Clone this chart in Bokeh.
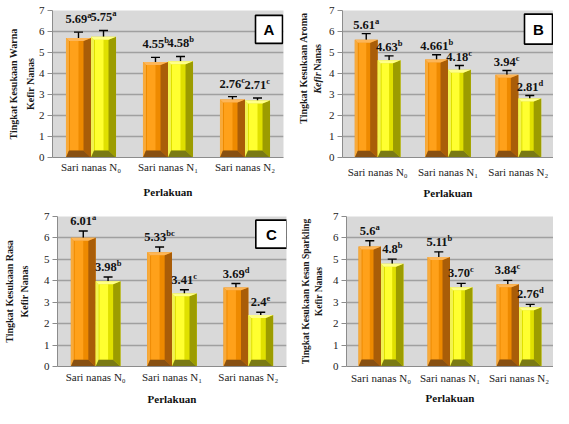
import math
from bokeh.plotting import figure
from bokeh.models import ColumnDataSource, Whisker, TeeHead, FixedTicker, Range1d, LinearAxis
from bokeh.layouts import column, row
from bokeh.embed import file_html
from bokeh.resources import INLINE
from bokeh.core.properties import value

# ---------------- data ----------------
categories = ["Sari nanas N\u2080", "Sari nanas N\u2081", "Sari nanas N\u2082"]
x_title = "Perlakuan"
y_ticks = [0, 1, 2, 3, 4, 5, 6, 7]

# A : Warna
warna_title = ["Tingkat Kesukaan Warna", "Kefir Nanas"]
warna_orange = [5.69, 4.55, 2.76]
warna_yellow = [5.75, 4.58, 2.71]
warna_orange_err = [0.28, 0.22, 0.14]
warna_yellow_err = [0.30, 0.23, 0.12]
warna_orange_text = ["5.69", "4.55", "2.76"]
warna_yellow_text = ["5.75", "4.58", "2.71"]
warna_orange_sup = ["a", "b", "c"]
warna_yellow_sup = ["a", "b", "c"]

# B : Aroma
aroma_title = ["Tingkat Kesukaan Aroma", "Kefir", "Nanas"]
aroma_orange = [5.61, 4.661, 3.94]
aroma_yellow = [4.63, 4.18, 2.81]
aroma_orange_err = [0.29, 0.23, 0.20]
aroma_yellow_err = [0.21, 0.20, 0.14]
aroma_orange_text = ["5.61", "4.661", "3.94"]
aroma_yellow_text = ["4.63", "4.18", "2.81"]
aroma_orange_sup = ["a", "b", "c"]
aroma_yellow_sup = ["b", "c", "d"]

# C : Rasa
rasa_title = ["Tingkat Kesukaan Rasa", "Kefir Nanas"]
rasa_orange = [6.01, 5.33, 3.69]
rasa_yellow = [3.98, 3.41, 2.4]
rasa_orange_err = [0.31, 0.25, 0.18]
rasa_yellow_err = [0.20, 0.17, 0.13]
rasa_orange_text = ["6.01", "5.33", "3.69"]
rasa_yellow_text = ["3.98", "3.41", "2.4"]
rasa_orange_sup = ["a", "bc", "d"]
rasa_yellow_sup = ["b", "c", "e"]

# D : Kesan Sparkling
spark_title = ["Tingkat Kesukaan Kesan Sparkling", "Kefir Nanas"]
spark_orange = [5.6, 5.11, 3.84]
spark_yellow = [4.8, 3.70, 2.76]
spark_orange_err = [0.27, 0.24, 0.18]
spark_yellow_err = [0.21, 0.18, 0.14]
spark_orange_text = ["5.6", "5.11", "3.84"]
spark_yellow_text = ["4.8", "3.70", "2.76"]
spark_orange_sup = ["a", "b", "c"]
spark_yellow_sup = ["b", "c", "d"]

# ---------------- styling ----------------
ORANGE = dict(body="#EE8A00", hi="#FFA11A", left="#F8AA3A", right="#A95D08",
              top="#FDB658", bottom="#885012")
YELLOW = dict(body="#E0E000", hi="#FFFF30", left="#F2F250", right="#9C9C00",
              top="#FFFF8A", bottom="#7A7A14")
SERIF = "Liberation Serif"
N_CAT = len(categories)
Y_MAX = y_ticks[-1]
BAR_W = 0.325


def text_width(t, digit=6.25, other=3.1):
    return sum(digit if ch.isdigit() else other for ch in t)


def draw_bars(p, vals, errs, texts, sups, offset, col, cat_px, unit_px, gap):
    bl = 3.0 / cat_px
    br = 7.5 / cat_px
    bt = 3.0 / unit_px
    bb = 7.0 / unit_px
    hi_l = 4.0 / cat_px
    layers = {k: ([], []) for k in ["body", "hi", "left", "right", "top", "bottom"]}
    for i, v in enumerate(vals):
        c = i + 0.5 + offset
        x0, x1 = c - BAR_W / 2, c + BAR_W / 2
        layers["body"][0].append([x0, x1, x1, x0])
        layers["body"][1].append([0, 0, v, v])
        hx0, hx1 = x0 + hi_l, x0 + BAR_W * 0.5
        layers["hi"][0].append([hx0, hx1, hx1, hx0])
        layers["hi"][1].append([bb, bb, v - bt, v - bt])
        layers["left"][0].append([x0, x0, x0 + bl, x0 + bl])
        layers["left"][1].append([0, v, v - bt, bb])
        layers["right"][0].append([x1, x1, x1 - br, x1 - br])
        layers["right"][1].append([0, v, v - bt, bb])
        layers["top"][0].append([x0, x1, x1 - br, x0 + bl])
        layers["top"][1].append([v, v, v - bt, v - bt])
        layers["bottom"][0].append([x0, x1, x1 - br, x0 + bl])
        layers["bottom"][1].append([0, 0, bb, bb])
    for k in ["body", "hi", "left", "right", "top", "bottom"]:
        xs, ys = layers[k]
        p.patches(xs, ys, fill_color=col[k], line_color=None)

    centers = [i + 0.5 + offset for i in range(len(vals))]
    src = ColumnDataSource(dict(
        base=centers,
        lower=[v - e for v, e in zip(vals, errs)],
        upper=[v + e for v, e in zip(vals, errs)],
    ))
    w = Whisker(base="base", lower="lower", upper="upper", source=src,
                line_color="black", line_width=1.4,
                upper_head=TeeHead(size=9, line_color="black", line_width=1.4),
                lower_head=TeeHead(size=9, line_color="black", line_width=1.4))
    p.add_layout(w)

    lab = ColumnDataSource(dict(
        x=centers,
        y=[v + e + gap for v, e in zip(vals, errs)],
        t=texts,
        s=sups,
        xo=[(text_width(t) - 4.3 * len(s)) / 2 for t, s in zip(texts, sups)],
    ))
    p.text(x="x", y="y", text="t", x_offset="xo", source=lab,
           text_align="right", text_baseline="middle",
           text_font=value(SERIF), text_font_style="bold",
           text_font_size="12.5px", text_color="#111111")
    p.text(x="x", y="y", text="s", x_offset="xo", y_offset=-4, source=lab,
           text_align="left", text_baseline="middle",
           text_font=value(SERIF), text_font_style="bold",
           text_font_size="8.5px", text_color="#111111")


def make_title(width, height, lines):
    t = figure(width=width, height=height, x_range=Range1d(0, width),
               y_range=Range1d(0, height), output_backend="svg",
               toolbar_location=None, x_axis_location=None, y_axis_location=None,
               min_border=0, outline_line_color=None,
               background_fill_color="white", border_fill_color="white")
    t.xgrid.visible = False
    t.ygrid.visible = False
    for (txt, x, y, size, style, align) in lines:
        t.text(x=[x], y=[y], text=[txt], angle=math.pi / 2, text_align=align,
               text_baseline="middle", text_font=value(SERIF),
               text_font_size=f"{size}px", text_font_style=style,
               text_color="#1A1A1A")
    return t


def make_panel(width, height, bl, br, bt, bb, orange, yellow, oerr, yerr,
               otext, ytext, osup, ysup, gap, label_standoff, axis_standoff,
               box=None, titles=None):
    p = figure(width=width, height=height, x_range=Range1d(0, N_CAT),
               y_range=Range1d(0, Y_MAX), output_backend="svg",
               toolbar_location=None, min_border_left=bl, min_border_right=br,
               min_border_top=bt, min_border_bottom=bb,
               background_fill_color="#D9D9D9", border_fill_color="white",
               outline_line_color=None)
    frame_w = width - bl - br
    frame_h = height - bt - bb
    cat_px = frame_w / N_CAT
    unit_px = frame_h / Y_MAX

    p.xgrid.grid_line_color = None
    p.ygrid.grid_line_color = "#A0A0A0"
    p.ygrid.grid_line_width = 1.4
    p.ygrid.ticker = FixedTicker(ticks=y_ticks)

    p.yaxis.ticker = FixedTicker(ticks=y_ticks)
    p.yaxis.axis_line_color = "#8C8C8C"
    p.yaxis.major_tick_line_color = "#8C8C8C"
    p.yaxis.major_tick_out = 5
    p.yaxis.major_tick_in = 0
    p.yaxis.minor_tick_line_color = None
    p.yaxis.major_label_standoff = 3
    p.yaxis.major_label_text_font = SERIF
    p.yaxis.major_label_text_font_size = "11px"
    p.yaxis.major_label_text_color = "#222222"

    if titles is not None:
        (line1, s1), (line2, s2), size = titles
        p.yaxis.axis_label = line2
        p.yaxis.axis_label_standoff = s2
        p.yaxis.axis_label_text_font = SERIF
        p.yaxis.axis_label_text_font_size = size
        p.yaxis.axis_label_text_font_style = "bold"
        p.yaxis.axis_label_text_color = "#1A1A1A"
        extra = LinearAxis(ticker=FixedTicker(ticks=[]), axis_line_color=None,
                           major_tick_line_color=None, minor_tick_line_color=None,
                           axis_label=line1, axis_label_standoff=s1,
                           axis_label_text_font=SERIF, axis_label_text_font_size=size,
                           axis_label_text_font_style="bold",
                           axis_label_text_color="#1A1A1A")
        p.add_layout(extra, "left")

    p.xaxis.ticker = FixedTicker(ticks=[i + 0.5 for i in range(N_CAT)])
    p.xaxis.major_label_overrides = {i + 0.5: c for i, c in enumerate(categories)}
    p.xaxis.axis_line_color = "#8C8C8C"
    p.xaxis.major_tick_line_color = None
    p.xaxis.minor_tick_line_color = None
    p.xaxis.major_tick_out = 0
    p.xaxis.major_tick_in = 0
    p.xaxis.major_label_standoff = label_standoff
    p.xaxis.major_label_text_font = SERIF
    p.xaxis.major_label_text_font_size = "11px"
    p.xaxis.major_label_text_color = "#222222"
    p.xaxis.axis_label = x_title
    p.xaxis.axis_label_standoff = axis_standoff
    p.xaxis.axis_label_text_font = SERIF
    p.xaxis.axis_label_text_font_size = "11px"
    p.xaxis.axis_label_text_font_style = "bold"
    p.xaxis.axis_label_text_color = "#111111"

    draw_bars(p, orange, oerr, otext, osup, -BAR_W / 2, ORANGE, cat_px, unit_px, gap)
    draw_bars(p, yellow, yerr, ytext, ysup, BAR_W / 2, YELLOW, cat_px, unit_px, gap)

    if box is not None:
        letter, cx, cy, bw, bh = box
        bx = cx / cat_px
        by = cy / unit_px
        p.rect(x=[bx], y=[by], width=bw, height=bh, width_units="screen",
               height_units="screen", fill_color="white", line_color="black",
               line_width=1.6)
        p.text(x=[bx], y=[by], text=[letter], text_align="center",
               text_baseline="middle", text_font=value("Liberation Sans"),
               text_font_style="bold", text_font_size="15px", text_color="black")
    return p


ROW_H = 204

pA = make_panel(288, ROW_H, 52, 5, 9, 47,
                warna_orange, warna_yellow, warna_orange_err, warna_yellow_err,
                warna_orange_text, warna_yellow_text, warna_orange_sup, warna_yellow_sup,
                gap=0.62, label_standoff=3, axis_standoff=10,
                box=("A", 216.5, 129, 27, 28),
                titles=((warna_title[0], 3), (warna_title[1], 0), "10px"))

tB = make_title(36, ROW_H, [(aroma_title[0], 15, 124, 10, "bold", "center"),
                            (aroma_title[1], 29, 118, 10, "bold italic", "right"),
                            (aroma_title[2], 29, 120.5, 10, "bold", "left")])
pB = make_panel(229, ROW_H, 18, 0, 10, 44,
                aroma_orange, aroma_yellow, aroma_orange_err, aroma_yellow_err,
                aroma_orange_text, aroma_yellow_text, aroma_orange_sup, aroma_yellow_sup,
                gap=0.40, label_standoff=8, axis_standoff=6,
                box=("B", 196, 131, 28, 30))

pC = make_panel(288, ROW_H, 52, 2, 9, 42,
                rasa_orange, rasa_yellow, rasa_orange_err, rasa_yellow_err,
                rasa_orange_text, rasa_yellow_text, rasa_orange_sup, rasa_yellow_sup,
                gap=0.47, label_standoff=4, axis_standoff=7,
                box=("C", 218.5, 135, 31, 28),
                titles=((rasa_title[0], 1), (rasa_title[1], 11), "10px"))

pD = make_panel(265, ROW_H, 58, 0, 12, 42,
                spark_orange, spark_yellow, spark_orange_err, spark_yellow_err,
                spark_orange_text, spark_yellow_text, spark_orange_sup, spark_yellow_sup,
                gap=0.47, label_standoff=5, axis_standoff=5,
                titles=((spark_title[0], 0), (spark_title[1], 6), "9.5px"))

layout = column(row(pA, tB, pB), row(pC, pD))
open("out.html", "w").write(file_html(layout, INLINE))
